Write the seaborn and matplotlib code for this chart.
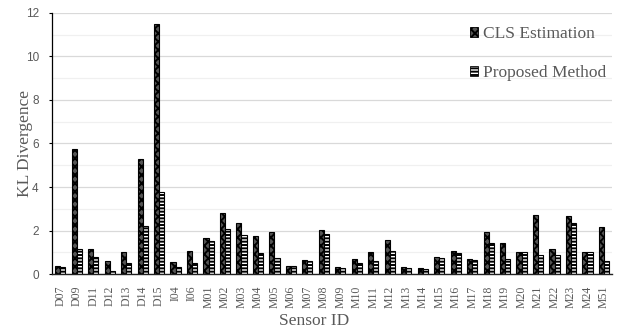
import pandas as pd
import matplotlib
matplotlib.use("Agg")
import matplotlib.pyplot as plt
from matplotlib.patches import Patch
from matplotlib.ticker import MultipleLocator
import seaborn as sns

sensors = ["D07", "D09", "D11", "D12", "D13", "D14", "D15", "I04", "I06",
           "M01", "M02", "M03", "M04", "M05", "M06", "M07", "M08", "M09",
           "M10", "M11", "M12", "M13", "M14", "M15", "M16", "M17", "M18",
           "M19", "M20", "M21", "M22", "M23", "M24", "M51"]
cls_estimation = [0.38, 5.75, 1.15, 0.58, 1.00, 5.28, 11.51, 0.54, 1.04,
                  1.68, 2.80, 2.33, 1.76, 1.94, 0.38, 0.66, 2.04, 0.34,
                  0.70, 1.00, 1.55, 0.31, 0.28, 0.80, 1.07, 0.69, 1.94,
                  1.41, 1.01, 2.73, 1.15, 2.66, 1.01, 2.14]
proposed = [0.31, 1.13, 0.77, 0.15, 0.49, 2.20, 3.77, 0.31, 0.50,
            1.53, 2.07, 1.78, 0.98, 0.72, 0.35, 0.60, 1.84, 0.29,
            0.51, 0.60, 1.06, 0.26, 0.25, 0.74, 0.96, 0.64, 1.44,
            0.69, 1.01, 0.86, 0.87, 2.34, 1.01, 0.61]
methods = ["CLS Estimation", "Proposed Method"]

df = pd.DataFrame({
    "sensor": sensors * 2,
    "kl": cls_estimation + proposed,
    "method": [methods[0]] * len(sensors) + [methods[1]] * len(sensors),
})

sns.set_style("white")
plt.rcParams["hatch.linewidth"] = 1.4
serif = ["Liberation Serif", "DejaVu Serif"]
tick_grey = "#595959"

fig = plt.figure(figsize=(6.19, 3.31), dpi=100)
ax = fig.add_axes([0.084, 0.172, 0.905, 0.789])

sns.barplot(data=df, x="sensor", y="kl", hue="method", order=sensors,
            hue_order=methods, width=0.62, palette=["#2a2a2a", "white"],
            edgecolor="black", linewidth=0.6, gap=0, legend=False, ax=ax)

# textures: dark dotted for CLS, ladder stripes for the proposed method
styles = [dict(hatch="xxxx", face="#555555"), dict(hatch="-----", face="white")]
for cont, st in zip(ax.containers, styles):
    for p in cont:
        p.set_hatch(st["hatch"])
        p.set_facecolor(st["face"])
        p.set_edgecolor("black")
        p.set_linewidth(0.8)

ax.set_xlim(-0.5, len(sensors) - 0.5)
ax.set_ylim(0, 12)
ax.yaxis.set_major_locator(MultipleLocator(2))
ax.yaxis.set_minor_locator(MultipleLocator(1))
ax.grid(axis="y", which="major", color="#d9d9d9", linewidth=0.9)
ax.grid(axis="y", which="minor", color="#f0f0f0", linewidth=0.9)
ax.set_axisbelow(True)

for side in ["top", "right"]:
    ax.spines[side].set_visible(False)
ax.spines["left"].set_color("black")
ax.spines["left"].set_linewidth(0.9)
ax.spines["bottom"].set_color("#222222")
ax.spines["bottom"].set_linewidth(1.0)

ax.tick_params(axis="y", which="major", left=True, length=2.5, width=0.8,
               color="black", pad=7, labelsize=8.5, labelcolor=tick_grey)
ax.tick_params(axis="y", which="minor", left=False)
ax.tick_params(axis="x", bottom=False, pad=5, labelsize=8.5,
               labelcolor=tick_grey, rotation=90)
for lab in ax.get_yticklabels():
    lab.set_family(["Liberation Sans", "DejaVu Sans"])
for lab in ax.get_xticklabels():
    lab.set_family(serif)

ax.set_xlabel("")
ax.set_ylabel("KL Divergence", family=serif, fontsize=12.5, color=tick_grey)
ax.yaxis.set_label_coords(-0.034, 0.5)
fig.text(314.5 / 619, 1 - 321 / 331, "Sensor ID", family=serif, fontsize=12.5,
         color=tick_grey, ha="center", va="center")

handles = [Patch(facecolor=st["face"], edgecolor="black", hatch=st["hatch"],
                 linewidth=0.6) for st in styles]
ax.legend(handles, methods, loc="upper left", bbox_to_anchor=(0.73, 0.982),
          frameon=False, borderpad=0, handlelength=0.5, handleheight=0.5,
          handletextpad=0.25, labelspacing=1.3,
          prop={"family": serif, "size": 12.5}, labelcolor=tick_grey)

fig.savefig("out.png", dpi=100)
